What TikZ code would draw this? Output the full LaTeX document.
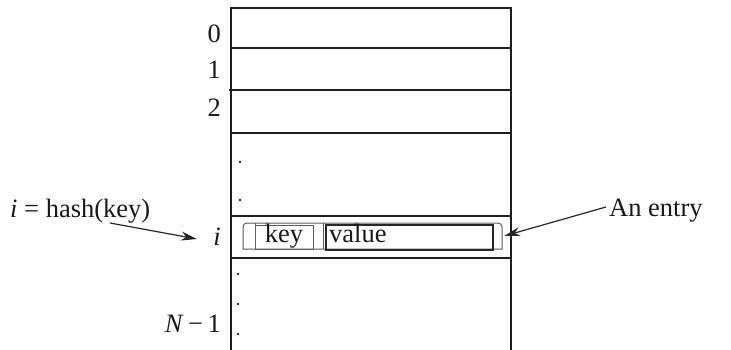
\documentclass[tikz,border=0pt]{standalone}
\usepackage{fontspec}
\setmainfont{Liberation Serif}
\usetikzlibrary{arrows.meta}
\begin{document}
\begin{tikzpicture}[x=1pt,y=-1pt,
  font=\fontsize{26.5}{30}\selectfont,
  tbl/.style={line width=1.5pt, draw=black!88},
  thinline/.style={line width=1pt, draw=black!65},
  valline/.style={line width=1.6pt, draw=black!85},
  lbl/.style={inner sep=0pt, text=black!90},
  arr/.style={line width=1.2pt, draw=black!85, -{Stealth[length=16pt,width=9pt]}},
  dotmark/.style={fill=black!85, draw=none}]
\useasboundingbox (0,0) rectangle (731,350);
% table
\draw[tbl] (231,350) -- (231,8) -- (511,8) -- (511,350);
\draw[tbl] (231,48) -- (511,48);
\draw[tbl] (229,90) -- (511,90);
\draw[tbl] (231,133) -- (511,133);
\draw[tbl] (231,216) -- (511,216);
\draw[tbl] (231,258) -- (511,258);
% row labels
\node[lbl, anchor=base east] (r0) at (221,43) {0};
\node[lbl, anchor=base east] (r1) at (221,79) {1};
\node[lbl, anchor=base east] (r2) at (221,117) {2};
\node[lbl, anchor=base east] (ri) at (221,245) {\textit{i}};
\node[lbl, anchor=base east] (rn) at (221,332) {\textit{N}\,−\,1};
% dots
\foreach \p/\q in {240/162, 240/200, 238/274, 238/304, 238/334}
  \fill[dotmark] (\p,\q) circle (1.3pt);
% entry
\node[inner sep=0pt, minimum width=259pt, minimum height=26pt] (entry) at (372.5,236) {};
\draw[thinline] (243,249) [rounded corners=4pt] -- (243,223) -- (502,223) -- (502,236) [sharp corners] -- (502,249) -- cycle;
\draw[thinline] (255,223) -- (255,249);
\draw[thinline] (255,225) rectangle (313,249);
\draw[thinline] (323,223) -- (323,249);
\draw[valline] (326,225) rectangle (493,250);
\node[lbl, anchor=base] (key) at (284,242) {key};
\node[lbl, anchor=base west] (val) at (329,242) {value};
% annotations
\node[lbl, anchor=base west] (hash) at (10,217) {\textit{i} = hash(key)};
\node[lbl, anchor=base west] (elbl) at (609,216) {An entry};
\coordinate (hs) at (110,223);
\coordinate (he) at (197,239);
\draw[arr] (hs) -- (he);
\coordinate (es) at (606,207);
\draw[arr] (es) -- ([xshift=2pt]entry.east);
\end{tikzpicture}
\end{document}
